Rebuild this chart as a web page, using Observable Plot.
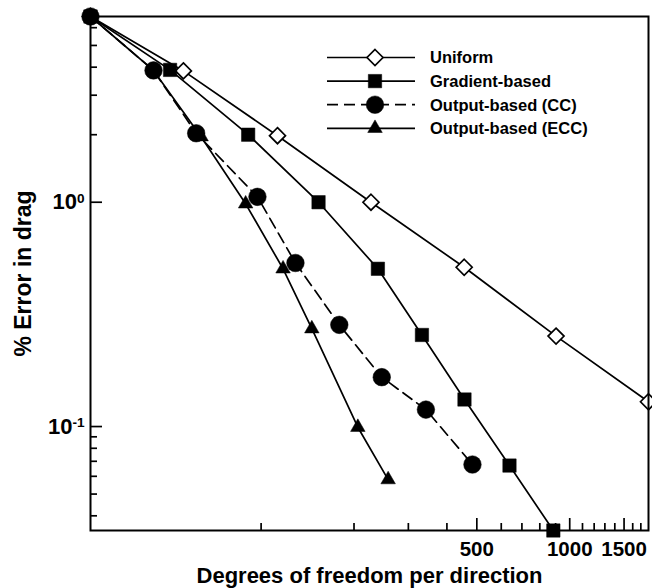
<!DOCTYPE html>
<html>
<head>
<meta charset="utf-8">
<script src="https://cdn.jsdelivr.net/npm/d3@7"></script>
<script src="https://cdn.jsdelivr.net/npm/@observablehq/plot@0.6"></script>
<style>
  html, body { margin: 0; padding: 0; background: #fff; }
</style>
</head>
<body>
<div id="chart"></div>
<script>
// Drag error convergence: % error vs. degrees of freedom per direction
const seriesNames = ["Uniform", "Gradient-based", "Output-based (CC)", "Output-based (ECC)"];

const uniformDof = [28, 56, 113, 227, 455, 903, 1800];
const uniformErr = [6.73, 3.85, 1.98, 1.0, 0.513, 0.253, 0.129];

const gradientDof = [28, 50.7, 90.8, 153.5, 239, 332, 456, 638, 885];
const gradientErr = [6.73, 3.89, 2.0, 1.0, 0.505, 0.256, 0.132, 0.067, 0.0344];

const ccDof = [28, 44.8, 61.6, 97.3, 129.2, 179.2, 246, 342, 484];
const ccErr = [6.73, 3.87, 2.03, 1.057, 0.536, 0.284, 0.166, 0.119, 0.0677];

const eccDof = [28, 44.8, 63.9, 89.1, 117.8, 146, 205.8, 258];
const eccErr = [6.73, 3.87, 1.96, 0.984, 0.505, 0.273, 0.0993, 0.058];

const xMajorTicks = [500, 1000, 1500];
const xMinorTicks = [100, 200, 300, 400, 600, 700, 800, 900, 1100, 1200, 1300, 1400, 1600, 1700];
const yMajorTicks = [1, 0.1];
const yMinorTicks = [0.04, 0.05, 0.06, 0.07, 0.08, 0.09, 2, 3, 4, 5, 6];

const xLabel = "Degrees of freedom per direction";
const yLabel = "% Error in drag";

// marker / line style per series (drawing order: CC last so its circles sit on top)
const styles = [
  {name: seriesNames[0], dof: uniformDof, err: uniformErr, symbol: "diamond2", fill: "white", r: 7.2, dash: null},
  {name: seriesNames[1], dof: gradientDof, err: gradientErr, symbol: "square", fill: "black", r: 4.0, dash: null},
  {name: seriesNames[3], dof: eccDof, err: eccErr, symbol: "triangle", fill: "black", r: 5.4, dash: null},
  {name: seriesNames[2], dof: ccDof, err: ccErr, symbol: "circle", fill: "black", r: 8.8, dash: "11,6"}
];
styles[1].r = 13.4 / Math.sqrt(Math.PI); // square side ≈ 13.4px

const rows = styles.flatMap(s => s.dof.map((d, i) => ({series: s.name, dof: d, err: s.err[i]})));

const lineWidth = 1.7;
const hollowStroke = 1.7;

const marks = [];
for (const s of styles) {
  const data = rows.filter(r => r.series === s.name);
  marks.push(Plot.line(data, {
    x: "dof", y: "err", stroke: "black", strokeWidth: lineWidth,
    strokeDasharray: s.dash ?? undefined
  }));
}
for (const s of styles) {
  const data = rows.filter(r => r.series === s.name);
  marks.push(Plot.dot(data, {
    x: "dof", y: "err", symbol: s.symbol, r: s.r,
    fill: s.fill, stroke: "black", strokeWidth: s.fill === "white" ? hollowStroke : 0.5
  }));
}

const chart = Plot.plot({
  width: 652,
  height: 588,
  marginLeft: 90,
  marginRight: 4,
  marginTop: 16,
  marginBottom: 58,
  style: {
    fontFamily: "'Liberation Sans', Arial, Helvetica, sans-serif",
    fontWeight: "bold",
    fontSize: "22px",
    color: "black",
    background: "white",
    overflow: "visible"
  },
  x: {type: "log", domain: d3.extent(rows, d => d.dof)},
  y: {type: "log", domain: d3.extent(rows, d => d.err)},
  marks: [
    // inward ticks
    Plot.axisX({ticks: xMinorTicks, tickSize: -7, tickFormat: () => "", label: null, strokeWidth: 1.7}),
    Plot.axisX({ticks: xMajorTicks, tickSize: -12, tickFormat: () => "", label: null, strokeWidth: 1.7}),
    Plot.axisY({ticks: yMinorTicks, tickSize: -7, tickFormat: () => "", label: null, strokeWidth: 1.7}),
    Plot.axisY({ticks: yMajorTicks, tickSize: -12, tickFormat: () => "", label: null, strokeWidth: 1.7}),
    // tick labels and titles
    Plot.axisX({
      ticks: xMajorTicks, tickSize: 0, tickPadding: 11, tickFormat: d => String(d),
      label: null, fontSize: 20.5
    }),
    Plot.axisX({
      ticks: [], tickSize: 0, label: xLabel, labelAnchor: "center", labelOffset: 52,
      labelArrow: "none", fontSize: 22
    }),
    Plot.axisY({
      ticks: yMajorTicks, tickSize: 0, tickPadding: 6,
      tickFormat: d => `10^${Math.round(Math.log10(d))}`,
      label: null, fontSize: 22
    }),
    Plot.axisY({
      ticks: [], tickSize: 0, label: yLabel, labelAnchor: "center", labelOffset: 76,
      labelArrow: "none", fontSize: 23
    }),
    ...marks,
    Plot.frame({stroke: "black", strokeWidth: 2})
  ]
});

document.getElementById("chart").appendChild(chart);

// power-of-ten tick labels: raise the exponent
d3.select(chart).selectAll('g[aria-label="y-axis tick label"] text').each(function () {
  const t = d3.select(this);
  const txt = t.text();
  const m = txt.match(/^10\^(-?\d+)$/);
  if (!m) return;
  t.text("10");
  t.append("tspan").attr("dy", "-0.45em").attr("font-size", "0.62em").text(m[1]);
});

// legend inside the plot area
const legend = d3.select(chart).append("g").attr("class", "legend");
const legendRows = seriesNames.map(name => ({name, style: styles.find(s => s.name === name)}));
const lx0 = 327, lx1 = 415, lxm = 375, ltx = 430, ly0 = 57.5, ldy = 23.6;
legendRows.forEach((row, i) => {
  const y = ly0 + i * ldy;
  const s = row.style;
  legend.append("line")
    .attr("x1", lx0).attr("x2", lx1).attr("y1", y).attr("y2", y)
    .attr("stroke", "black").attr("stroke-width", lineWidth)
    .attr("stroke-dasharray", s.dash);
  const symType = {diamond2: d3.symbolDiamond2, square: d3.symbolSquare, triangle: d3.symbolTriangle, circle: d3.symbolCircle}[s.symbol];
  legend.append("path")
    .attr("transform", `translate(${lxm},${y})`)
    .attr("d", d3.symbol(symType, Math.PI * s.r * s.r)())
    .attr("fill", s.fill).attr("stroke", "black")
    .attr("stroke-width", s.fill === "white" ? hollowStroke : 0.5);
  legend.append("text")
    .attr("x", ltx).attr("y", y).attr("dy", "0.36em")
    .attr("text-anchor", "start")
    .attr("font-size", 16.5).attr("font-weight", "bold")
    .attr("fill", "black")
    .text(row.name);
});
</script>
</body>
</html>
